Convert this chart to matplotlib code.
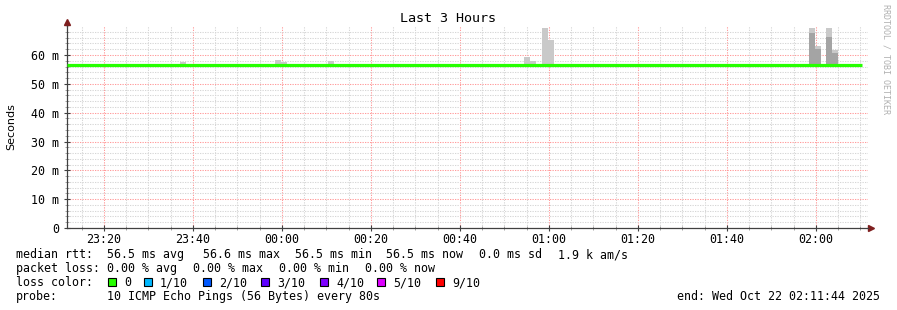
import numpy as np
import matplotlib
matplotlib.use('Agg')
from matplotlib import pyplot as plt
from matplotlib.patches import Rectangle

W, H = 897, 310
step = 80  # seconds per sample
n_slots = 135

# median rtt per 80 s step (ms)
median = [56.5, 56.5, 56.5, 56.5, 56.5, 56.5, 56.4, 56.5, 56.5, 56.5,
          56.5, 56.4, 56.4, 56.6, 56.5, 56.5, 56.5, 56.5, 56.4, 56.5,
          56.5, 56.5, 56.5, 56.6, 56.5, 56.5, 56.5, 56.5, 56.5, 56.5,
          56.4, 56.5, 56.5, 56.5, 56.5, 56.5, 56.4, 56.5, 56.5, 56.5,
          56.5, 56.4, 56.5, 56.5, 56.6, 56.5, 56.5, 56.5, 56.5, 56.4,
          56.5, 56.5, 56.5, 56.5, 56.6, 56.5, 56.5, 56.5, 56.5, 56.5,
          56.5, 56.5, 56.5, 56.6, 56.5, 56.5, 56.5, 56.5, 56.5, 56.5,
          56.5, 56.5, 56.5, 56.5, 56.5, 56.5, 56.5, 56.5, 56.5, 56.5,
          56.6, 56.5, 56.5, 56.5, 56.5, 56.5, 56.5, 56.5, 56.5, 56.5,
          56.5, 56.5, 56.5, 56.5, 56.5, 56.5, 56.4, 56.5, 56.5, 56.5,
          56.5, 56.5, 56.5, 56.5, 56.4, 56.5, 56.5, 56.5, 56.5, 56.5,
          56.5, 56.5, 56.5, 56.5, 56.5, 56.5, 56.5, 56.5, 56.5, 56.5,
          56.4, 56.5, 56.5, 56.5, 56.5, 56.5, 56.5, 56.5, 56.5, 56.5,
          56.5, 56.5, 56.5, 56.5]

# smoke spikes: step index, outer (max) top, inner top
spike_idx = [19, 35, 36, 44, 77, 78, 80, 81, 125, 126, 128, 129]
spike_top = [57.6, 58.3, 57.6, 57.9, 59.4, 58.0, 69.5, 65.2, 69.5, 63.2, 69.5, 61.7]
spike_mid = [56.9, 57.0, 56.9, 56.9, 56.9, 56.9, 56.9, 56.9, 67.7, 62.0, 66.1, 60.6]

tick_labels = ['23:20', '23:40', '00:00', '00:20', '00:40', '01:00', '01:20', '01:40', '02:00']
first_tick = 496  # 23:20 is 8m16s after 23:11:44

loss_labels = ['0', '1/10', '2/10', '3/10', '4/10', '5/10', '9/10']
loss_colors = ['#26ff00', '#00b8ff', '#0059ff', '#5e00ff', '#7e00ff', '#dd00ff', '#ff0000']

mono = 'DejaVu Sans Mono'
fs = 8.4

fig = plt.figure(figsize=(W / 100, H / 100), dpi=100)
fig.patch.set_facecolor('white')
ax = fig.add_axes([67 / W, 82 / H, 801 / W, 202 / H])
ax.set_xlim(0, n_slots * step)
ax.set_ylim(0, 202 / 2.883)

# smoke
xs = np.array(spike_idx) * step
bot = np.array([median[i] for i in spike_idx]) - 0.3
ax.bar(xs, np.array(spike_top) - bot, bottom=bot, width=step, align='edge',
       color='#c9c9c9', linewidth=0, zorder=2)
ax.bar(xs, np.array(spike_mid) - bot, bottom=bot, width=step, align='edge',
       color='#a4a4a4', linewidth=0, zorder=2)

# median line
edges = np.arange(len(median) + 1) * step
ax.stairs(median, edges, color='#26ff00', linewidth=2.3, baseline=None, zorder=3)

# grid
ax.set_xticks([first_tick + 1200 * k for k in range(len(tick_labels))])
ax.set_xticklabels(tick_labels)
ax.set_xticks(np.arange(196, n_slots * step, 300), minor=True)
ax.set_yticks(np.arange(0, 61, 10))
ax.set_yticklabels(['0', '10 m', '20 m', '30 m', '40 m', '50 m', '60 m'])
ax.set_yticks(np.arange(0, 70, 2), minor=True)
ax.set_axisbelow(True)
ax.grid(which='minor', color='#d6d6d6', linestyle=(0, (1.2, 1.2)), linewidth=0.75)
ax.grid(which='major', color='#ff9b9b', linestyle=(0, (1.2, 1.2)), linewidth=0.75)

for s in ['top', 'right']:
    ax.spines[s].set_visible(False)
for s in ['left', 'bottom']:
    ax.spines[s].set_color('#404040')
    ax.spines[s].set_linewidth(0.9)
ax.tick_params(which='both', direction='inout', color='#404040', labelsize=fs,
               labelfontfamily=mono)
ax.tick_params(which='major', length=5, width=0.8)
ax.tick_params(which='minor', length=2.5, width=0.5, color='#808080')
ax.tick_params(axis='x', pad=1)
ax.tick_params(axis='y', pad=3)

# axis extensions and arrows
ax.plot([1.0, 1.003], [0, 0], color='#404040', lw=0.9, transform=ax.transAxes, clip_on=False)
ax.plot([0, 0], [1.0, 1.01], color='#404040', lw=0.9, transform=ax.transAxes, clip_on=False)
ax.plot([1.004], [0], marker='>', color='#7f1f1f', markersize=4, transform=ax.transAxes, clip_on=False)
ax.plot([0], [1.02], marker='^', color='#7f1f1f', markersize=4, transform=ax.transAxes, clip_on=False)

# titles
fig.text(448 / W, 1 - 19 / H, 'Last 3 Hours', ha='center', va='center', family=mono, size=9.6)
fig.text(11 / W, 1 - 127 / H, 'Seconds', ha='center', va='center', rotation=90, size=8)
fig.text(886 / W, 1 - 59 / H, 'RRDTOOL / TOBI OETIKER', ha='center', va='center', rotation=270,
         family=mono, size=6, color='#b0b0b0')


def line(x, y, s, ha='left'):
    # y is the text baseline in pixels from the top
    fig.text(x / W, 1 - y / H, s, ha=ha, va='baseline', family=mono, size=fs)


line(16, 258, 'median rtt:')
for x, s in zip([107, 203, 295, 386, 479, 558],
                ['56.5 ms avg', '56.6 ms max', '56.5 ms min', '56.5 ms now', '0.0 ms sd', '1.9 k am/s']):
    line(x, 258, s)
line(16, 272, 'packet loss:')
for x, s in zip([107, 193, 279, 365], ['0.00 % avg', '0.00 % max', '0.00 % min', '0.00 % now']):
    line(x, 272, s)
line(16, 286, 'loss color:')
for x, lab, c in zip([108, 144, 203, 261, 320, 377, 436], loss_labels, loss_colors):
    fig.add_artist(Rectangle((x / W, 1 - 286 / H), 8 / W, 8 / H, transform=fig.transFigure,
                             facecolor=c, edgecolor='black', linewidth=0.8))
    line(x + 16, 286, lab)
line(16, 300, 'probe:')
line(107, 300, '10 ICMP Echo Pings (56 Bytes) every 80s')
line(880, 300, 'end: Wed Oct 22 02:11:44 2025', ha='right')

fig.savefig('out.png', dpi=100)
